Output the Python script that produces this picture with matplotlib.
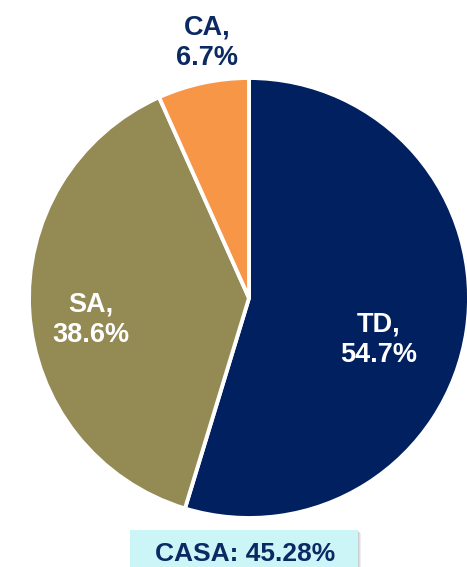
import matplotlib.pyplot as plt
from matplotlib.patches import FancyBboxPatch

# deposit mix
categories = ["TD", "SA", "CA"]
shares = [54.7, 38.6, 6.7]
casa_text = "CASA: 45.28%"

colors = ["#002060", "#948A54", "#F79646"]
label_colors = ["white", "white", "#0B2A63"]
# label positions in data units (pie radius = 1)
label_pos = [(0.59, -0.19), (-0.72, -0.10), (-0.19, 1.16)]

plt.rcParams['font.family'] = ['Liberation Sans', 'DejaVu Sans']

fig = plt.figure(figsize=(4.67, 5.67), dpi=100)
r_px = 220
cx, cy = 249, 298
ax = fig.add_axes([(cx - r_px) / 467, (567 - cy - r_px) / 567,
                   2 * r_px / 467, 2 * r_px / 567])
ax.pie(shares, colors=colors, startangle=90, counterclock=False,
       radius=1.0, wedgeprops=dict(edgecolor="white", linewidth=2.8))
ax.set_xlim(-1, 1)
ax.set_ylim(-1, 1)
ax.set_aspect("equal")
ax.axis("off")

for cat, val, (x, y), c in zip(categories, shares, label_pos, label_colors):
    ax.text(x, y, f"{cat},\n{val:.1f}%", ha="center", va="center",
            fontsize=19.5, fontweight="bold", color=c, linespacing=1.22,
            clip_on=False)

# CASA box at the bottom, with a soft shadow
bx0, by0, bw, bh = 130 / 467, 0 / 567, 228 / 467, 37 / 567
for i, a in enumerate([0.25, 0.35, 0.5]):
    off = (3 - i) / 1.0
    fig.add_artist(FancyBboxPatch((bx0 + off / 467, by0 - off / 567), bw, bh,
                                  boxstyle="square,pad=0",
                                  transform=fig.transFigure,
                                  facecolor="#BFBFBF", edgecolor="none",
                                  alpha=a))
box = FancyBboxPatch((bx0, by0), bw, bh, boxstyle="square,pad=0",
                     transform=fig.transFigure, facecolor="#CCF5F8",
                     edgecolor="none")
fig.add_artist(box)
fig.text(245 / 467, 1 - 554 / 567, casa_text, ha="center", va="center",
         fontsize=19, fontweight="bold", color="#0B2A63")

fig.savefig("out.png", dpi=100)
